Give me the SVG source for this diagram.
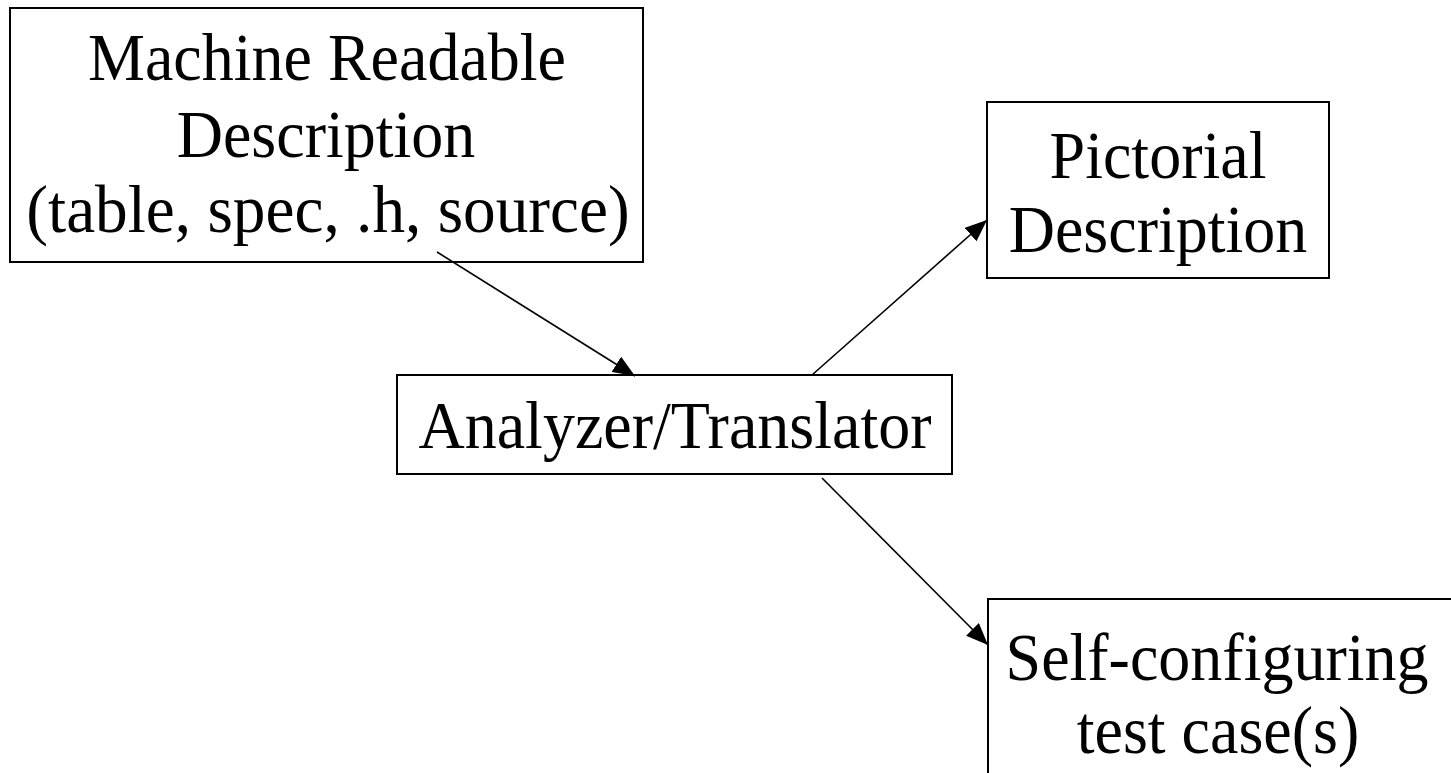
<svg xmlns="http://www.w3.org/2000/svg" width="1451" height="773" viewBox="0 0 1451 773">
<style>
.box{fill:#fff;stroke:#000;stroke-width:2}
.t{font-family:"Liberation Serif","Times New Roman",serif;font-size:64px;fill:#000;text-anchor:middle}
.c{stroke:#000;stroke-width:1.6;fill:none;marker-end:url(#ah)}
</style>
<defs>
<marker id="ah" viewBox="0 0 22 18" refX="22" refY="9" markerWidth="22" markerHeight="18" markerUnits="userSpaceOnUse" orient="auto">
<path d="M0,0 L22,9 L0,18 Z" fill="#000"/>
</marker>
</defs>
<rect width="1451" height="773" fill="#fff"/>
<g id="n1">
<rect class="box" x="10" y="8" width="633" height="254"/>
<text class="t" transform="translate(327,80) scale(1,1.05)">Machine Readable</text>
<text class="t" transform="translate(326,157) scale(1,1.05)">Description</text>
<text class="t" transform="translate(328,232) scale(1.02,1.05)">(table, spec, .h, source)</text>
</g>
<g id="n2">
<rect class="box" x="987" y="102" width="342" height="176"/>
<text class="t" transform="translate(1158,178) scale(1,1.05)">Pictorial</text>
<text class="t" transform="translate(1158,252) scale(1,1.05)">Description</text>
</g>
<g id="n3">
<rect class="box" x="397" y="375" width="555" height="99"/>
<text class="t" transform="translate(675,448) scale(1,1.05)">Analyzer/Translator</text>
</g>
<g id="n4">
<rect class="box" x="988" y="599" width="480" height="200"/>
<text class="t" transform="translate(1217,680) scale(1,1.05)">Self-configuring</text>
<text class="t" transform="translate(1218,753) scale(1,1.05)">test case(s)</text>
</g>
<g id="connectors">
<line class="c" x1="437" y1="252" x2="635" y2="376"/>
<line class="c" x1="812" y1="375" x2="987" y2="220"/>
<line class="c" x1="822" y1="478" x2="988" y2="645"/>
</g>
</svg>
